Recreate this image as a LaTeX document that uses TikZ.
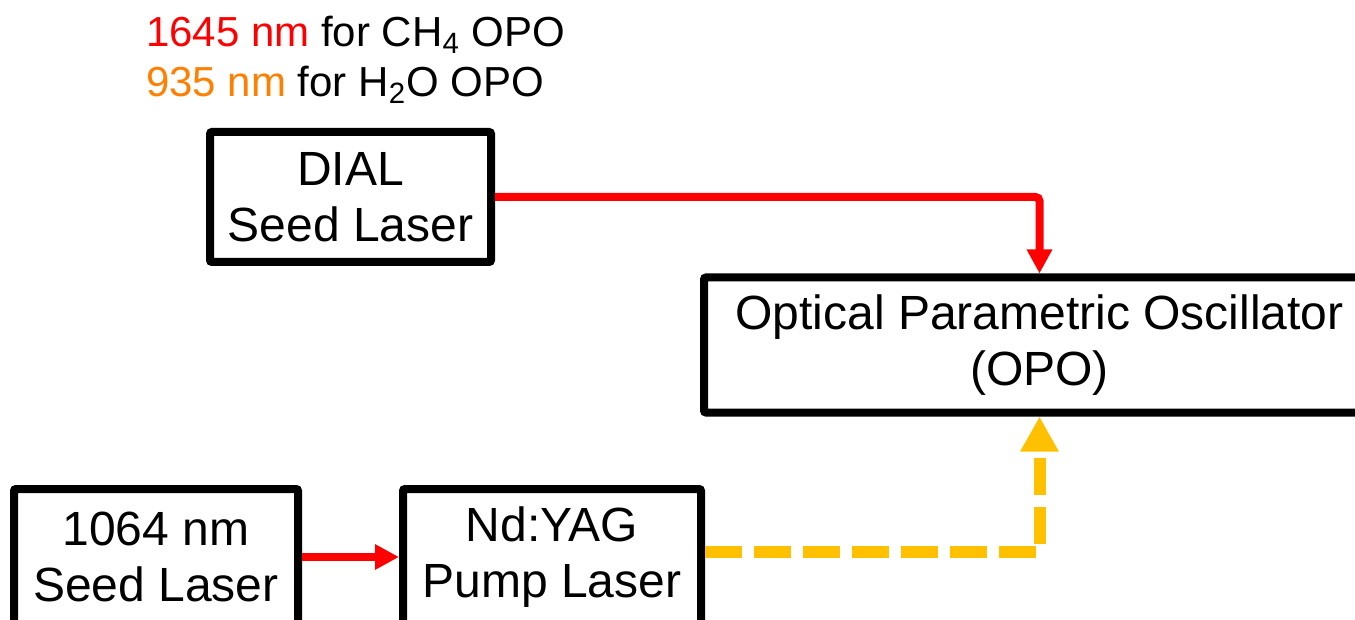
\documentclass[tikz,border=0pt]{standalone}
\usepackage{fontspec}
\setmainfont{Liberation Sans}
\usetikzlibrary{arrows.meta,positioning}
\definecolor{laserred}{RGB}{255,0,0}
\definecolor{laserorange}{RGB}{255,128,0}
\definecolor{pumpgold}{RGB}{255,192,0}

\begin{document}
\begin{tikzpicture}[x=0.5pt, y=-0.5pt, font=\fontsize{24}{28}\selectfont,
  box/.style={draw=black, line width=4pt, rounded corners=1pt, align=center, inner sep=0pt},
  beam/.style={-{Triangle[length=12pt,width=12pt]}, laserred, line width=4pt},
  pumpbeam/.style={-{Triangle[length=17.5pt,width=18pt]}, pumpgold, line width=6pt,
  dash pattern=on 18.5pt off 6pt}, note/.style={anchor=base west, font=\fontsize{21}{25}\selectfont}]
\path[use as bounding box, clip] (0,0) rectangle (1355,620);
\node[note] (ch4) at (139,47) {\textcolor{laserred}{1645 nm} for CH\textsubscript{4} OPO};
\node[note] (h2o) at (139,97) {\textcolor{laserorange}{935 nm} for H\textsubscript{2}O OPO};
\node[box, minimum width=140.5pt, minimum height=65pt] (dial) at (350.5,197) {DIAL\\Seed Laser};
\node[box, minimum width=335.5pt, minimum height=67.5pt] (opo) at (1039.5,345)
  {Optical Parametric Oscillator\\(OPO)};
\node[box, minimum width=142pt, minimum height=68pt] (seed) at (156,557) {1064 nm\\Seed Laser};
\node[box, minimum width=149pt, minimum height=68pt] (yag) at (552,557) {Nd:YAG\\Pump Laser};
\draw[beam, rounded corners=2pt] (dial.east) -| (opo.north);
\draw[beam] (seed) -- (yag);
\draw[pumpbeam] ([yshift=2.5pt]yag.east) -| (opo.south);
\end{tikzpicture}
\end{document}
